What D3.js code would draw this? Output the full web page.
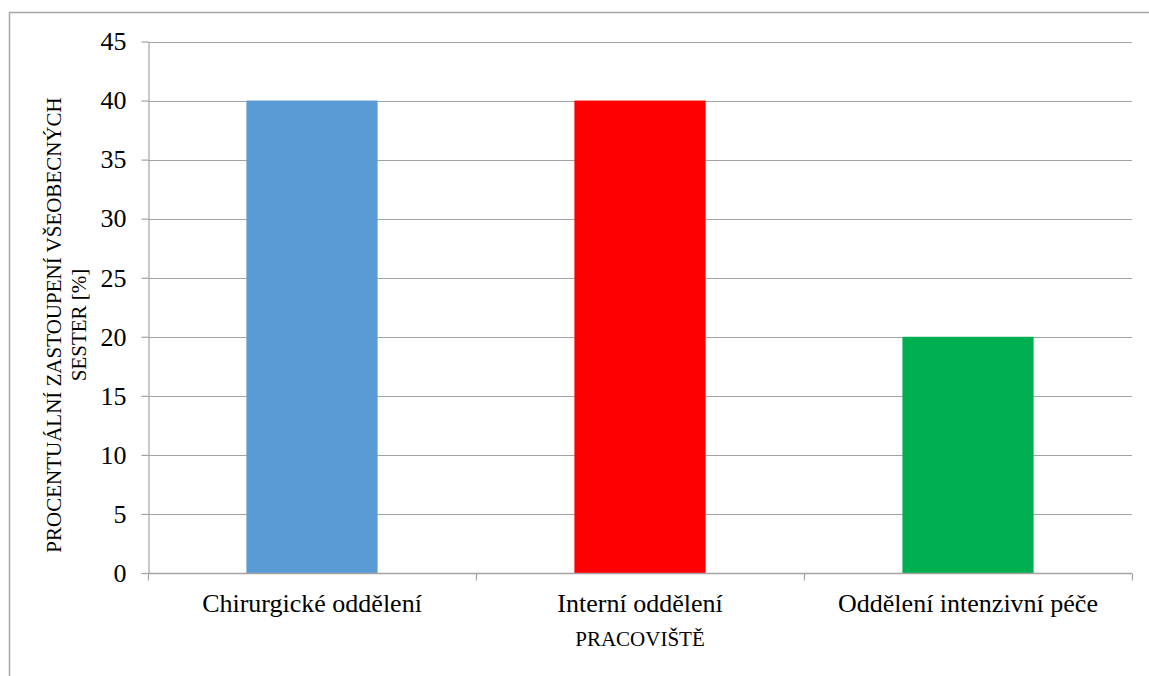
<!DOCTYPE html>
<html>
<head>
<meta charset="utf-8">
<script src="https://cdn.jsdelivr.net/npm/d3@7"></script>
<style>
  html, body { margin: 0; padding: 0; background: #fff; }
  svg { display: block; }
  text { font-family: "Liberation Serif", "Times New Roman", serif; fill: #000; }
</style>
</head>
<body>
<svg id="chart" width="1149" height="676"></svg>
<script>
// Workplaces and their share of general nurses (%)
const categories = ["Chirurgické oddělení", "Interní oddělení", "Oddělení intenzivní péče"];
const shares = [40, 40, 20];
const barColors = ["#5B9BD5", "#FF0000", "#00B050"];
const yTicks = [0, 5, 10, 15, 20, 25, 30, 35, 40, 45];
const yTitleLines = ["PROCENTUÁLNÍ ZASTOUPENÍ VŠEOBECNÝCH", "SESTER [%]"];
const xTitle = "PRACOVIŠTĚ";

const serif = '"Liberation Serif", "Times New Roman", serif';
const svg = d3.select("#chart");
const plot = { left: 148, right: 1132, top: 41.5, bottom: 573 };
const gridColor = "#a3a3a3";

// outer chart frame (continues past the right and bottom edges)
svg.append("rect")
  .attr("x", 9.5).attr("y", 12.5)
  .attr("width", 1200).attr("height", 700)
  .attr("fill", "none").attr("stroke", "#a6a6a6").attr("stroke-width", 1.5);

const y = d3.scaleLinear().domain([0, 45]).range([plot.bottom, plot.top]);
const x = d3.scaleBand().domain(categories)
  .range([plot.left, plot.right])
  .paddingInner(0.6).paddingOuter(0.3);

// horizontal gridlines
svg.append("g").selectAll("line")
  .data(yTicks.filter(d => d > 0))
  .join("line")
  .attr("x1", plot.left).attr("x2", plot.right)
  .attr("y1", d => Math.round(y(d)) + 0.5).attr("y2", d => Math.round(y(d)) + 0.5)
  .attr("stroke", gridColor).attr("stroke-width", 1.2);

// y axis
const yAxis = svg.append("g")
  .attr("transform", `translate(${plot.left + 0.5},0)`)
  .call(d3.axisLeft(y).tickValues(yTicks).tickSize(7).tickPadding(15).tickSizeOuter(0));
yAxis.attr("font-family", null).attr("font-size", null);
yAxis.select(".domain").attr("stroke", gridColor).attr("stroke-width", 1.2);
yAxis.selectAll(".tick line").attr("stroke", gridColor).attr("stroke-width", 1.2);
yAxis.selectAll(".tick text")
  .style("font-family", serif)
  .style("font-size", "26px")
  .style("fill", "#000");

// bars
svg.append("g").selectAll("rect")
  .data(categories)
  .join("rect")
  .attr("x", d => x(d))
  .attr("width", x.bandwidth())
  .attr("y", (d, i) => y(shares[i]))
  .attr("height", (d, i) => y(0) - y(shares[i]))
  .attr("fill", (d, i) => barColors[i]);

// x axis baseline and category separators
const baseY = Math.round(y(0)) + 0.5;
svg.append("line")
  .attr("x1", plot.left).attr("x2", plot.right)
  .attr("y1", baseY).attr("y2", baseY)
  .attr("stroke", gridColor).attr("stroke-width", 1.5);
const sepX = d3.range(categories.length + 1).map(i => plot.left + i * x.step());
svg.append("g").selectAll("line")
  .data(sepX)
  .join("line")
  .attr("x1", d => Math.round(d) + 0.5).attr("x2", d => Math.round(d) + 0.5)
  .attr("y1", baseY).attr("y2", baseY + 7)
  .attr("stroke", gridColor).attr("stroke-width", 1.2);

// category labels
svg.append("g").selectAll("text")
  .data(categories)
  .join("text")
  .attr("x", d => x(d) + x.bandwidth() / 2)
  .attr("y", 612)
  .attr("text-anchor", "middle")
  .style("font-family", serif)
  .style("font-size", "26px")
  .text(d => d);

// axis titles
svg.append("text")
  .attr("x", (plot.left + plot.right) / 2)
  .attr("y", 646)
  .attr("text-anchor", "middle")
  .style("font-family", serif)
  .style("font-size", "21px")
  .text(xTitle);

const yTitle = svg.append("text")
  .attr("transform", "translate(61,325) rotate(-90)")
  .attr("text-anchor", "middle")
  .style("font-family", serif)
  .style("font-size", "21px");
yTitleLines.forEach((line, i) => {
  yTitle.append("tspan")
    .attr("x", 0)
    .attr("y", i * 25)
    .text(line);
});
</script>
</body>
</html>
